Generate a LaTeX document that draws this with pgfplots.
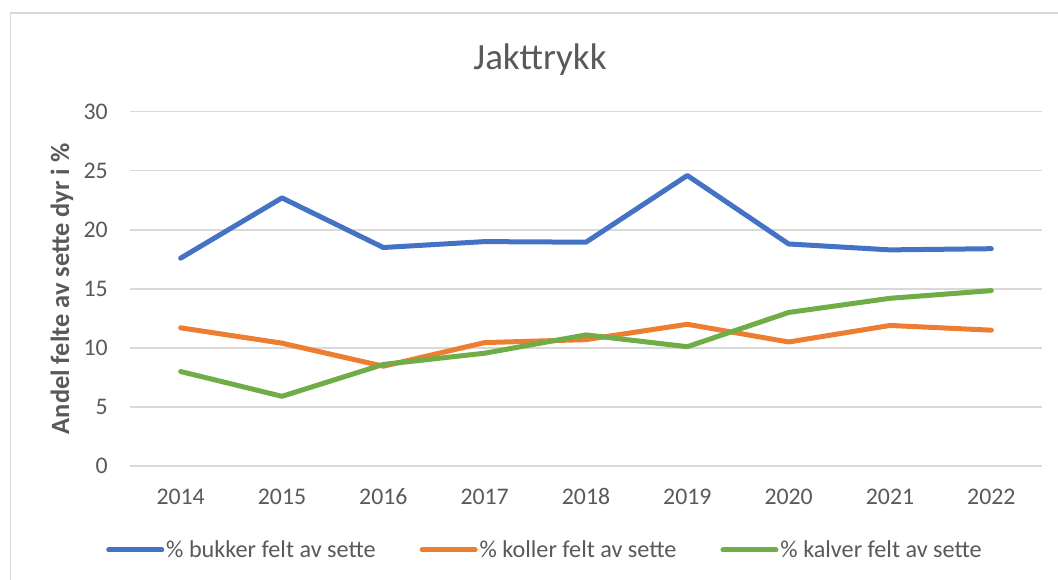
\documentclass[border=0pt]{standalone}
\usepackage{pgfplots}
\pgfplotsset{compat=1.18}
\usepackage{pgfplotstable}
\usepackage{fontspec}
\setmainfont{Carlito}
\definecolor{cblue}{HTML}{4472C4}
\definecolor{corange}{HTML}{ED7D31}
\definecolor{cgreen}{HTML}{70AD47}
\definecolor{ctext}{HTML}{595959}
\definecolor{cgrid}{HTML}{D9D9D9}
\pgfplotstableread{
x bukker koller kalver
0 17.6 11.7 8.0
1 22.7 10.4 5.9
2 18.5 8.45 8.6
3 19.0 10.45 9.55
4 18.95 10.7 11.1
5 24.6 12.0 10.1
6 18.8 10.5 13.0
7 18.3 11.9 14.2
8 18.4 11.5 14.85
}\datatable
\begin{document}
\begin{tikzpicture}
\useasboundingbox (0,0) rectangle (1058pt,579pt);
\draw[cgrid, line width=1.5pt] (10.5pt,566pt) rectangle (1090pt,-20pt);
\begin{axis}[
  at={(130pt,113pt)}, anchor=south west,
  scale only axis, width=912pt, height=354.3pt,
  xmin=-0.5, xmax=8.5, ymin=0, ymax=30,
  xtick={0,...,8},
  xticklabels={2014,2015,2016,2017,2018,2019,2020,2021,2022},
  ytick={0,5,...,30},
  axis line style={draw=none},
  major tick length=0pt,
  ymajorgrids, grid style={cgrid, line width=1.5pt},
  /pgf/number format/assume math mode=true,
  tick label style={font=\fontsize{23.8}{28}\selectfont, text=ctext, inner sep=0pt},
  yticklabel style={anchor=east, xshift=-22pt},
  xticklabel style={anchor=base, yshift=-38pt},
  ylabel={Andel felte av sette dyr i \%},
  ylabel style={at={(axis description cs:-0.0746,0.5)}, anchor=center, font=\fontsize{26.4}{30}\selectfont\bfseries, text=ctext},
  legend columns=3,
  legend style={draw=none, fill=none, at={(axis description cs:0.455,-0.237)}, anchor=center,
    font=\fontsize{24.2}{28}\selectfont, text=ctext,
    /tikz/every even column/.append style={column sep=42pt},
    nodes={inner sep=2pt}},
  legend image code/.code={\draw[#1, line width=5pt, line cap=round] (0pt,0pt) -- (53pt,0pt);},
  every axis plot/.append style={line width=5pt, line cap=round, line join=round},
]
\addplot[cblue, mark=none] table[x=x, y=bukker] {\datatable};
\addlegendentry{\% bukker felt av sette}
\addplot[corange, mark=none] table[x=x, y=koller] {\datatable};
\addlegendentry{\% koller felt av sette}
\addplot[cgreen, mark=none] table[x=x, y=kalver] {\datatable};
\addlegendentry{\% kalver felt av sette}
\end{axis}
\node[anchor=base, text=ctext, font=\fontsize{37}{44}\selectfont] at (540pt,509pt) {Jakttrykk};
\end{tikzpicture}
\end{document}
